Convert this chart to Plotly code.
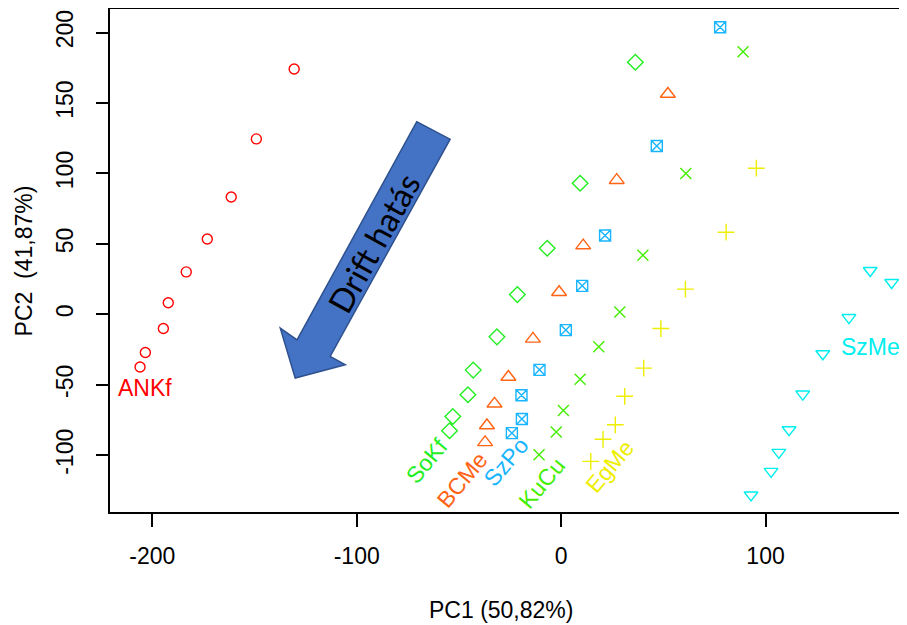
import plotly.graph_objects as go

# ---- data ----
groups = ["ANKf", "SoKf", "BCMe", "SzPo", "KuCu", "EgMe", "SzMe"]

ankf_x = [-130.6, -149.1, -161.4, -173.1, -183.4, -192.2, -194.6, -203.4, -206.0]
ankf_y = [174.1, 124.5, 83.3, 53.5, 30.1, 8.2, -10.1, -27.1, -37.4]

sokf_x = [36.3, 9.3, -6.8, -21.4, -31.4, -43.0, -45.6, -53.0, -54.6]
sokf_y = [178.9, 93.0, 46.9, 14.0, -16.0, -39.6, -57.1, -72.5, -82.6]

bcme_x = [52.2, 27.2, 10.8, -1.0, -13.8, -25.8, -32.6, -36.3, -37.2]
bcme_y = [156.4, 95.2, 48.8, 15.7, -17.4, -44.5, -63.5, -78.9, -90.9]

szpo_x = [77.8, 46.8, 21.5, 10.3, 2.3, -10.6, -19.4, -19.2, -24.1]
szpo_y = [203.7, 119.5, 55.9, 20.2, -11.2, -39.4, -57.4, -74.3, -84.3]

kucu_x = [89.0, 61.0, 40.0, 28.7, 18.4, 9.3, 1.1, -2.4, -10.8]
kucu_y = [186.4, 99.9, 42.0, 1.6, -23.0, -46.1, -68.2, -83.5, -99.6]

egme_x = [95.5, 80.7, 60.8, 48.8, 40.4, 31.1, 26.5, 20.5, 14.5]
egme_y = [103.7, 58.3, 17.9, -10.1, -38.2, -58.2, -78.4, -88.7, -104.4]

szme_x = [151.2, 161.7, 140.8, 128.0, 118.2, 111.5, 106.5, 102.7, 92.9]
szme_y = [31.1, 22.6, -2.3, -28.0, -56.6, -81.9, -98.0, -111.5, -128.2]

x_ticks = [-200, -100, 0, 100]
x_tick_labels = ["-200", "-100", "0", "100"]
y_ticks = [-100, -50, 0, 50, 100, 150, 200]
y_tick_labels = ["-100", "-50", "0", "50", "100", "150", "200"]
x_title = "PC1 (50,82%)"
y_title = "PC2  (41,87%)"
arrow_text = "Drift hatás"

# ---- styles / positions ----
xs = [ankf_x, sokf_x, bcme_x, szpo_x, kucu_x, egme_x, szme_x]
ys = [ankf_y, sokf_y, bcme_y, szpo_y, kucu_y, egme_y, szme_y]
colors = ["#FF0000", "#22EE22", "#FF6414", "#19B5FE", "#44EE00", "#EEEE00", "#00EEEE"]
symbols = ["circle-open", "diamond-open", "triangle-up-open", "square-x-open",
           "x-thin-open", "cross-thin-open", "triangle-down-open"]
sizes = [10, 12, 13, 11, 11, 12, 12]

label_pos = {
    "ANKf": (-203.4, -52.1, 0),
    "SoKf": (-65.7, -104.4, -50),
    "BCMe": (-48.6, -117.4, -50),
    "SzPo": (-26.9, -105.1, -50),
    "KuCu": (-9.4, -119.7, -50),
    "EgMe": (24.0, -108.0, -50),
    "SzMe": (151.1, -23.0, 0),
}

FONT = "Liberation Sans, Arial, sans-serif"

fig = go.Figure()
for g, x, y, c, s, sz in zip(groups, xs, ys, colors, symbols, sizes):
    fig.add_trace(go.Scatter(
        x=x, y=y, mode="markers", name=g,
        marker=dict(symbol=s, size=sz, color=c, line=dict(color=c, width=1.4)),
    ))

annotations = []
for g, c in zip(groups, colors):
    lx, ly, ang = label_pos[g]
    annotations.append(dict(x=lx, y=ly, xref="x", yref="y", text=g, showarrow=False,
                            textangle=ang, font=dict(family=FONT, size=23, color=c)))

# arrow (overlay drawing)
arrow_pts = [(-70.6, 136.7), (-129.2, -18.1), (-137.4, -9.8), (-130.1, -45.2),
             (-105.6, -35.8), (-113.0, -29.9), (-54.3, 124.3)]
path = "M " + " L ".join(f"{px},{py}" for px, py in arrow_pts) + " Z"
fig.add_shape(type="path", path=path, xref="x", yref="y",
              fillcolor="#4472C4", line=dict(color="#2F528F", width=1.5), layer="above")
annotations.append(dict(x=-91.9, y=50.6, xref="x", yref="y", text=arrow_text, showarrow=False,
                        textangle=-61, font=dict(family="Lato, Liberation Sans, sans-serif", size=33, color="black")))

# axis titles
annotations.append(dict(x=0.4906, y=-0.1948, xref="paper", yref="paper", text=x_title,
                        showarrow=False, yanchor="middle", xanchor="center",
                        font=dict(family=FONT, size=23, color="black")))
annotations.append(dict(x=-0.108, y=0.5, xref="paper", yref="paper", text=y_title,
                        showarrow=False, textangle=-90, yanchor="middle", xanchor="center",
                        font=dict(family=FONT, size=23, color="black")))

# page body has an 8px margin, so the figure is sized/offset to compensate
fig.update_layout(
    template="none",
    width=899, height=617,
    margin=dict(l=102, r=0, t=1, b=113),
    plot_bgcolor="white", paper_bgcolor="white",
    showlegend=False,
    font=dict(family=FONT, size=23, color="black"),
    annotations=annotations,
    xaxis=dict(range=[-220.7, 169.2], tickvals=x_ticks, ticktext=x_tick_labels,
               ticks="outside", ticklen=13,
               tickwidth=1.5, tickcolor="black", showline=True, linewidth=1.5,
               linecolor="black", mirror=True, showgrid=False, zeroline=False,
               automargin=False, ticklabelstandoff=10, tickfont=dict(family=FONT, size=23)),
    yaxis=dict(range=[-140.3, 216.7], tickvals=y_ticks, ticktext=y_tick_labels,
               ticks="outside", ticklen=12,
               tickwidth=1.5, tickcolor="black", showline=True, linewidth=1.5,
               linecolor="black", mirror=False, showgrid=False, zeroline=False,
               tickangle=-90, automargin=False, ticklabelstandoff=14,
               tickfont=dict(family=FONT, size=23)),
)

fig.write_html("out.html")
